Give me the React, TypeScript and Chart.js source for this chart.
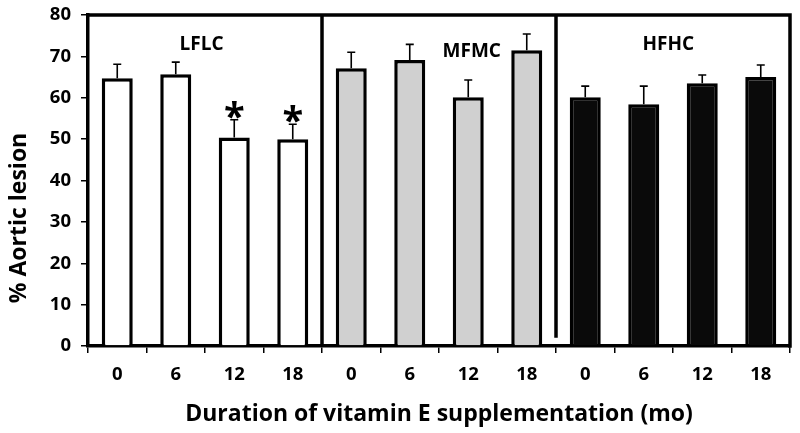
import React, { useEffect, useRef } from "react";
import { Chart, registerables } from "chart.js";

Chart.register(...registerables);

const groups = ["LFLC", "MFMC", "HFHC"];
const durations = ["0", "6", "12", "18"];
const lflcValues = [64.7, 65.7, 50.4, 50.0];
const mfmcValues = [67.1, 69.1, 60.1, 71.5];
const hfhcValues = [60.1, 58.4, 63.5, 65.0];
const lflcErrors = [3.4, 2.9, 4.3, 3.6];
const mfmcErrors = [3.9, 3.8, 4.2, 3.9];
const hfhcErrors = [2.7, 4.4, 2.0, 2.9];
const significant = [false, false, true, true, false, false, false, false, false, false, false, false];
const yTicks = [0, 10, 20, 30, 40, 50, 60, 70, 80];
const groupColors = ["#ffffff", "#d0d0d0", "#0a0a0a"];

const FONT = "'Open Sans', Lato, sans-serif";

export default function App() {
  const ref = useRef<HTMLCanvasElement>(null);
  useEffect(() => {
    document.body.style.margin = "0";
    const labels = [...durations, ...durations, ...durations];
    const values = [...lflcValues, ...mfmcValues, ...hfhcValues];
    const errors = [...lflcErrors, ...mfmcErrors, ...hfhcErrors];
    const colors = groupColors.flatMap((c) => durations.map(() => c));

    const overlay = {
      id: "overlay",
      afterDatasetsDraw(chart: any) {
        const { ctx, chartArea, scales } = chart;
        const xs = scales.x;
        const ys = scales.y;
        const meta = chart.getDatasetMeta(0);
        ctx.save();
        // error bars
        ctx.strokeStyle = "#000";
        ctx.lineWidth = 1.6;
        meta.data.forEach((bar: any, i: number) => {
          const yb = ys.getPixelForValue(values[i]);
          const yt = ys.getPixelForValue(values[i] + errors[i]);
          ctx.beginPath();
          ctx.moveTo(bar.x, yb);
          ctx.lineTo(bar.x, yt);
          ctx.moveTo(bar.x - 4, yt);
          ctx.lineTo(bar.x + 4, yt);
          ctx.stroke();
          if (significant[i]) {
            ctx.font = `bold 38px ${FONT}`;
            ctx.textAlign = "center";
            ctx.textBaseline = "alphabetic";
            ctx.fillStyle = "#000";
            const m = ctx.measureText("*");
            const asc = m.actualBoundingBoxAscent;
            const desc = m.actualBoundingBoxDescent;
            const cy = yt - 10;
            const base = cy + (asc - desc) / 2;
            ctx.fillText("*", bar.x, base);
          }
        });
        // frame
        ctx.strokeStyle = "#000";
        ctx.lineWidth = 3.5;
        ctx.lineCap = "square";
        const top = chartArea.top;
        const bottom = chartArea.bottom;
        ctx.beginPath();
        ctx.moveTo(chartArea.left, top);
        ctx.lineTo(chartArea.right, top);
        ctx.lineTo(chartArea.right, bottom);
        ctx.stroke();
        const sep1 = (xs.getPixelForValue(3) + xs.getPixelForValue(4)) / 2;
        const sep2 = (xs.getPixelForValue(7) + xs.getPixelForValue(8)) / 2;
        ctx.lineCap = "butt";
        ctx.beginPath();
        ctx.moveTo(sep1, top);
        ctx.lineTo(sep1, bottom);
        ctx.moveTo(sep2, top);
        ctx.lineTo(sep2, ys.getPixelForValue(2));
        ctx.stroke();
        // group labels
        ctx.font = `bold 19px ${FONT}`;
        ctx.textAlign = "center";
        ctx.textBaseline = "middle";
        ctx.fillStyle = "#000";
        const labelPos = [
          { x: xs.getPixelForValue(1.44), v: 72.8 },
          { x: xs.getPixelForValue(6.06), v: 71.2 },
          { x: xs.getPixelForValue(9.42), v: 72.8 },
        ];
        groups.forEach((g, k) => {
          ctx.fillText(g, labelPos[k].x, ys.getPixelForValue(labelPos[k].v));
        });
        // y title
        ctx.font = `bold 23px ${FONT}`;
        ctx.translate(19, 218);
        ctx.rotate(-Math.PI / 2);
        ctx.fillText("% Aortic lesion", 0, 0);
        ctx.restore();
      },
    };

    const chart = new Chart(ref.current!, {
      type: "bar",
      data: {
        labels,
        datasets: [
          {
            data: values,
            backgroundColor: colors,
            borderColor: "#000",
            borderWidth: 3.5,
            barPercentage: 0.53,
            categoryPercentage: 1,
          },
        ],
      },
      options: {
        animation: false,
        responsive: false,
        events: [],
        layout: { padding: { top: 15, right: 10, left: 0, bottom: 0 } },
        plugins: { legend: { display: false }, tooltip: { enabled: false } },
        scales: {
          x: {
            offset: true,
            border: { display: true, color: "#000", width: 3.5 },
            grid: {
              offset: true,
              drawOnChartArea: false,
              drawTicks: true,
              tickLength: 7,
              color: "#000",
              lineWidth: 1.5,
            },
            ticks: {
              color: "#000",
              font: { family: FONT, size: 18.5, weight: "bold" },
              padding: 11,
              maxRotation: 0,
              autoSkip: false,
            },
            title: {
              display: true,
              text: "Duration of vitamin E supplementation (mo)",
              color: "#000",
              font: { family: FONT, size: 23, weight: "bold" },
              padding: { top: 0, bottom: 5 },
            },
            afterFit(scale: any) {
              scale.height = 433 - 346;
              scale.paddingLeft = 0;
              scale.paddingRight = 0;
            },
          },
          y: {
            min: 0,
            max: 80,
            afterBuildTicks(scale: any) {
              scale.ticks = yTicks.map((v) => ({ value: v }));
            },
            border: { display: true, color: "#000", width: 3.5 },
            grid: {
              drawOnChartArea: false,
              drawTicks: true,
              tickLength: 7,
              color: "#000",
              lineWidth: 1.5,
            },
            ticks: {
              color: "#000",
              font: { family: FONT, size: 18.5, weight: "bold" },
              padding: 10,
            },
            afterFit(scale: any) {
              scale.width = 88;
              scale.paddingTop = 0;
              scale.paddingBottom = 0;
            },
          },
        },
      },
      plugins: [overlay],
    });
    return () => chart.destroy();
  }, []);
  return (
    <canvas
      ref={ref}
      width={800}
      height={433}
      style={{ position: "fixed", left: 0, top: 0, width: 800, height: 433, display: "block" }}
    />
  );
}
